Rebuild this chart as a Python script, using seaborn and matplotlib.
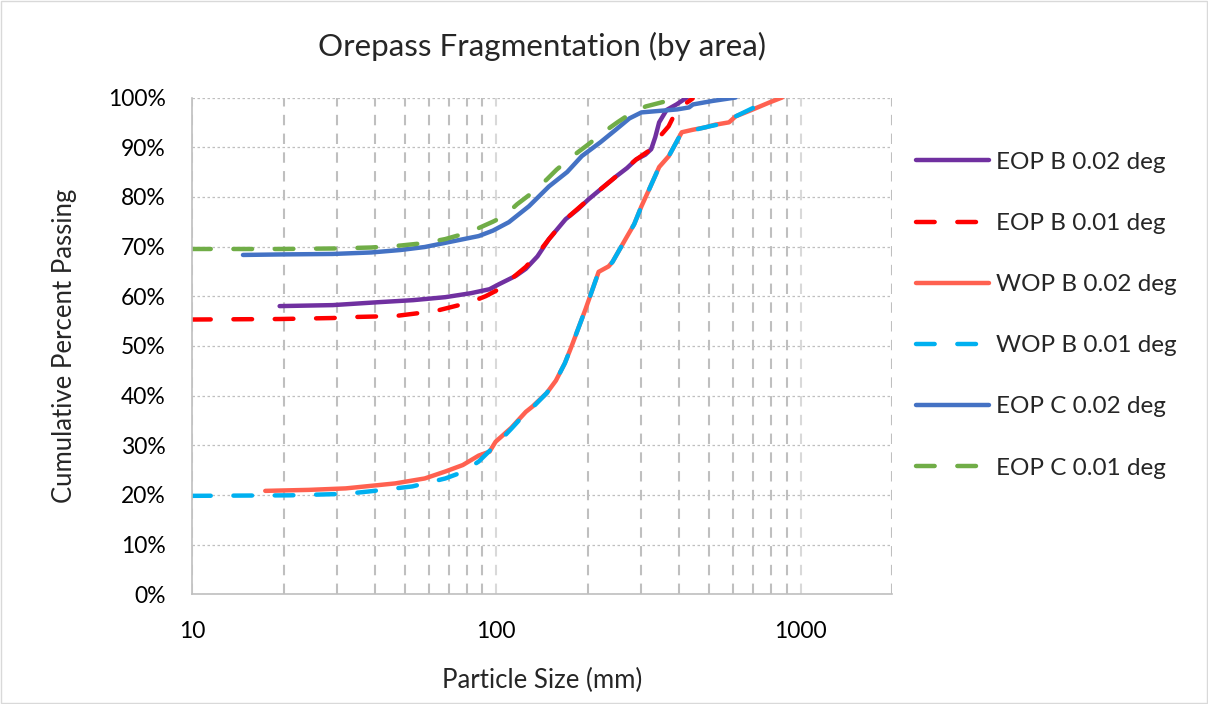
import matplotlib
matplotlib.use("Agg")
import matplotlib.pyplot as plt
import matplotlib.ticker as mticker
import seaborn as sns
import pandas as pd

# Datos (tamaño de partícula en mm, % acumulado pasante)
eop_b_002_x = [19.4, 29, 41.3, 53.3, 68, 82.5, 95, 102, 116, 125, 136.5, 149, 169, 185.5, 201,
               225, 247.5, 269, 288, 309, 323, 333, 343, 363, 391, 423]
eop_b_002_y = [58.0, 58.2, 58.8, 59.2, 59.8, 60.6, 61.4, 62.4, 64.1, 65.5, 68.0, 71.5, 75.5,
               77.5, 79.5, 82.0, 84.1, 85.8, 87.5, 88.5, 89.6, 92.0, 95.0, 97.5, 98.6, 100.0]

eop_b_001_x = [10, 19.4, 29, 33.8, 46.5, 63, 82.5, 92.3, 102, 125, 136.5, 149, 169, 201, 247.5,
               288, 323, 343, 368.5, 392, 442]
eop_b_001_y = [55.3, 55.4, 55.6, 55.8, 56.0, 57.0, 58.8, 60.0, 61.4, 65.9, 68.5, 71.5, 75.5,
               79.5, 84.1, 87.5, 89.6, 92.0, 94.2, 97.5, 99.8]

wop_b_002_x = [17.4, 24.2, 32, 46.5, 58.2, 68, 77.6, 87.5, 95, 99.5, 112, 125, 131.6, 146.5, 157,
               168, 177, 196.5, 217, 234, 241, 266, 284, 300, 318, 343, 369, 407, 442, 488, 522,
               582, 612, 691, 790, 870]
wop_b_002_y = [20.8, 21.0, 21.3, 22.3, 23.3, 24.7, 26.0, 27.9, 28.7, 30.7, 33.5, 36.7, 37.8,
               40.5, 43.0, 46.5, 50.0, 57.4, 64.9, 66.0, 66.9, 71.5, 74.5, 78.1, 81.5, 86.0,
               88.2, 93.0, 93.5, 94.0, 94.5, 95.0, 96.2, 97.5, 99.0, 100.0]

wop_b_001_x = [10, 21, 32, 38.4, 53, 68, 77.6, 87.5, 102, 112, 125, 131.6, 146.5, 157, 168, 177,
               196.5, 217, 234, 241, 266, 284, 300, 318, 343, 369, 407, 442, 502, 582, 612,
               715, 770]
wop_b_001_y = [19.8, 19.9, 20.2, 20.7, 21.7, 23.3, 24.6, 26.7, 30.7, 33.3, 36.5, 37.6, 40.5,
               43.0, 46.5, 50.0, 57.4, 64.9, 66.0, 66.9, 71.5, 74.5, 78.1, 81.5, 86.0, 88.2,
               93.0, 93.4, 94.2, 95.0, 96.2, 98.2, 99.8]

eop_c_002_x = [14.7, 19.4, 29, 38.8, 48.5, 58.2, 70, 87.5, 97.5, 110, 128, 149, 171, 191, 220,
               248, 274, 300, 343, 393, 430, 443, 513, 612]
eop_c_002_y = [68.3, 68.4, 68.5, 68.8, 69.3, 69.9, 70.9, 72.1, 73.2, 74.9, 78.1, 82.1, 85.0,
               88.2, 91.0, 93.6, 95.8, 97.0, 97.3, 97.6, 98.0, 98.6, 99.3, 100.0]

eop_c_001_x = [10, 19.4, 29, 38.8, 48.5, 58.2, 68, 77.6, 86, 97.5, 106, 117, 133, 146.5, 158,
               181, 201, 225, 250, 280, 310, 364, 416]
eop_c_001_y = [69.5, 69.5, 69.6, 69.8, 70.2, 70.7, 71.5, 72.5, 73.5, 75.0, 76.1, 78.5, 81.1,
               83.5, 85.5, 88.5, 90.6, 93.0, 95.0, 97.0, 98.2, 99.3, 100.0]

series = [
    ("EOP B 0.02 deg", eop_b_002_x, eop_b_002_y, "#7030A0", "-"),
    ("EOP B 0.01 deg", eop_b_001_x, eop_b_001_y, "#FF0000", "--"),
    ("WOP B 0.02 deg", wop_b_002_x, wop_b_002_y, "#FF6150", "-"),
    ("WOP B 0.01 deg", wop_b_001_x, wop_b_001_y, "#00B0F0", "--"),
    ("EOP C 0.02 deg", eop_c_002_x, eop_c_002_y, "#4472C4", "-"),
    ("EOP C 0.01 deg", eop_c_001_x, eop_c_001_y, "#70AD47", "--"),
]

sns.set_style("white")
plt.rcParams['font.family'] = ['Lato', 'DejaVu Sans']

fig = plt.figure(figsize=(12.08, 7.04), dpi=100)
ax = fig.add_axes([0.159, 0.156, 0.5795, 0.7055])

for nombre, xs, ys, color, estilo in series:
    df = pd.DataFrame({'x': xs, 'y': ys})
    sns.lineplot(data=df, x='x', y='y', ax=ax, color=color, label=nombre,
                 linewidth=3.2, sort=False)
    l = ax.get_lines()[-1]
    l.set_solid_capstyle('round')
    if estilo == '--':
        l.set_dashes([4.2, 5.1])
        l.set_dash_capstyle('round')

ax.set_xscale('log')
ax.set_xlim(10, 2000)
ax.set_ylim(0, 100)
ax.yaxis.set_major_locator(mticker.MultipleLocator(10))
ax.yaxis.set_major_formatter(mticker.FuncFormatter(lambda v, p: f"{v:.0f}%"))
ax.xaxis.set_major_locator(mticker.FixedLocator([10, 100, 1000]))
ax.xaxis.set_major_formatter(mticker.FuncFormatter(lambda v, p: f"{v:.0f}"))
ax.xaxis.set_minor_locator(mticker.LogLocator(base=10, subs=range(2, 10)))
ax.xaxis.set_minor_formatter(mticker.NullFormatter())

# Rejilla
ax.grid(axis='y', which='major', color='#BFBFBF', linestyle=(0, (2, 2)), linewidth=0.9)
ax.grid(axis='x', which='minor', color='#BFBFBF', linestyle=(0, (5, 4)), linewidth=1.5)
ax.grid(axis='x', which='major', color='#D9D9D9', linestyle=(0, (5, 4)), linewidth=1.5)
ax.set_axisbelow(True)

for s in ['top', 'right']:
    ax.spines[s].set_visible(False)
for s in ['left', 'bottom']:
    ax.spines[s].set_color('#BFBFBF')
    ax.spines[s].set_linewidth(1.2)

ax.tick_params(axis='both', which='both', length=0, labelsize=16.5, colors='black')
ax.tick_params(axis='x', pad=19)
ax.tick_params(axis='y', pad=19)

ax.set_xlabel('Particle Size (mm)', fontsize=18.5, labelpad=19)
ax.set_ylabel('Cumulative Percent Passing', fontsize=18.5, labelpad=22)
ax.set_title('Orepass Fragmentation (by area)', fontsize=22.5, pad=30)

ax.legend(loc='upper left', bbox_to_anchor=(1.02, 0.91), frameon=False, fontsize=17.5,
          handlelength=3.0, labelspacing=1.65, handletextpad=0.3, borderaxespad=0)

fig.patches.append(plt.Rectangle((0.001, 0.001), 0.998, 0.998, transform=fig.transFigure,
                                 fill=False, edgecolor='#D9D9D9', linewidth=1))

fig.savefig('out.png', dpi=100)
